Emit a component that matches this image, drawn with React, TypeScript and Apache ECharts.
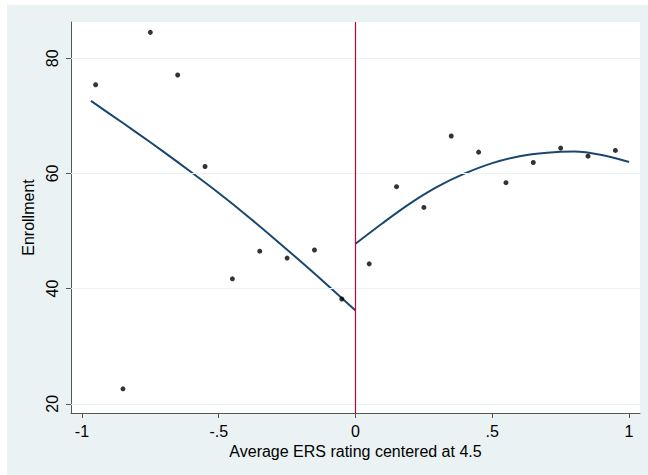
import React, { useEffect, useRef } from "react";
import * as echarts from "echarts";

const scatterX = [-0.95, -0.85, -0.75, -0.65, -0.55, -0.45, -0.35, -0.25, -0.15, -0.05, 0.05, 0.15, 0.25, 0.35, 0.45, 0.55, 0.65, 0.75, 0.85, 0.95];
const scatterY = [75.4, 22.6, 84.5, 77.1, 61.2, 41.7, 46.5, 45.3, 46.7, 38.2, 44.3, 57.7, 54.1, 66.5, 63.7, 58.4, 61.9, 64.4, 63.0, 64.0];

const leftFitX = [-0.967, -0.9, -0.8, -0.7, -0.6, -0.5, -0.4, -0.3, -0.2, -0.1, 0];
const leftFitY = [72.6, 70.4, 67.1, 63.7, 60.2, 56.6, 52.8, 48.8, 44.7, 40.5, 36.2];

const rightFitX = [0, 0.1, 0.2, 0.3, 0.4, 0.5, 0.6, 0.7, 0.8, 0.9, 1.0];
const rightFitY = [47.8, 51.4, 54.8, 57.7, 60.0, 61.8, 63.0, 63.6, 63.8, 63.2, 62.0];

const xTicks = [-1, -0.5, 0, 0.5, 1];
const yTicks = [20, 40, 60, 80];

const xTitle = "Average ERS rating centered at 4.5";
const yTitle = "Enrollment";

const fmtX = (v: number) => {
  if (v === 0) return "0";
  const s = String(v);
  return s.replace(/^(-?)0\./, "$1.");
};

export default function App() {
  const ref = useRef<HTMLDivElement>(null);
  useEffect(() => {
    document.body.style.margin = "0";
    if (!ref.current) return;
    const chart = echarts.init(ref.current, undefined, { renderer: "svg" });
    const font = "'Liberation Sans', Arial, sans-serif";
    const axisColor = "#555555";
    chart.setOption({
      animation: false,
      backgroundColor: "#ffffff",
      textStyle: { fontFamily: font },
      graphic: [
        {
          type: "rect",
          z: -10,
          silent: true,
          shape: { x: 7, y: 5, width: 641, height: 470 },
          style: { fill: "#eaf2f3" },
        },
      ],
      grid: {
        left: 71,
        top: 22,
        right: 8,
        bottom: 62,
        show: true,
        backgroundColor: "#ffffff",
        borderWidth: 0,
      },
      xAxis: {
        type: "value",
        min: -1.04,
        max: 1.04,
        name: xTitle,
        nameLocation: "middle",
        nameGap: 29,
        nameTextStyle: { fontSize: 16, color: "#000", fontFamily: font },
        axisLine: { show: true, onZero: false, lineStyle: { color: axisColor, width: 1 } },
        axisTick: { show: true, customValues: xTicks, length: 5, lineStyle: { color: axisColor } },
        axisLabel: { customValues: xTicks, formatter: (v: number) => fmtX(v), fontSize: 16, color: "#000", margin: 10, fontFamily: font },
        splitLine: { show: false },
      },
      yAxis: {
        type: "value",
        min: 18.4,
        max: 86.3,
        name: yTitle,
        nameLocation: "middle",
        nameRotate: 90,
        nameGap: 31,
        nameTextStyle: { fontSize: 16, color: "#000", fontFamily: font },
        axisLine: { show: true, onZero: false, lineStyle: { color: axisColor, width: 1 } },
        axisTick: { show: true, customValues: yTicks, length: 5, lineStyle: { color: axisColor } },
        axisLabel: { customValues: yTicks, rotate: 90, fontSize: 16, color: "#000", margin: 11, fontFamily: font },
        splitLine: { show: false },
      },
      series: [
        {
          type: "line",
          data: [],
          silent: true,
          markLine: {
            silent: true,
            symbol: "none",
            label: { show: false },
            lineStyle: { color: "#eaf2f3", width: 1, type: "solid" },
            data: yTicks.map((v) => ({ yAxis: v })),
          },
          z: 1,
        },
        {
          type: "line",
          data: [],
          silent: true,
          markLine: {
            silent: true,
            symbol: "none",
            label: { show: false },
            lineStyle: { color: "#c10534", width: 1.2, type: "solid" },
            data: [{ xAxis: 0 }],
          },
          z: 3,
        },
        {
          type: "line",
          data: leftFitX.map((x, i) => [x, leftFitY[i]]),
          showSymbol: false,
          smooth: 0.3,
          lineStyle: { color: "#1a476f", width: 2 },
          z: 4,
        },
        {
          type: "line",
          data: rightFitX.map((x, i) => [x, rightFitY[i]]),
          showSymbol: false,
          smooth: 0.3,
          lineStyle: { color: "#1a476f", width: 2 },
          z: 4,
        },
        {
          type: "scatter",
          data: scatterX.map((x, i) => [x, scatterY[i]]),
          symbolSize: 5,
          itemStyle: { color: "#000000" },
          z: 5,
        },
      ],
    });
    return () => chart.dispose();
  }, []);
  return <div ref={ref} style={{ width: 648, height: 475 }} />;
}
